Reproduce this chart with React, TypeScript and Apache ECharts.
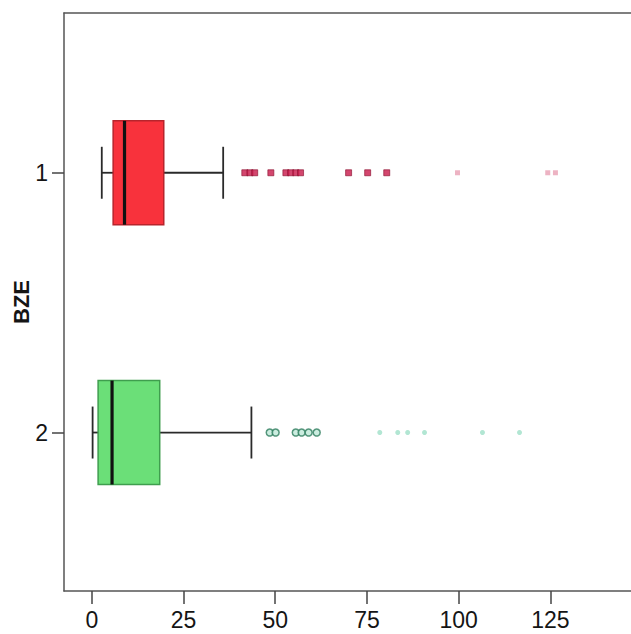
import React, { useEffect, useRef } from "react";
import * as echarts from "echarts";

const categories = ["1", "2"];
// [low whisker, Q1, median, Q3, high whisker]
const boxStats = [
  [2.7, 5.8, 8.9, 19.6, 35.8],
  [0.2, 1.7, 5.5, 18.5, 43.5],
];
const boxFill = ["#F8323C", "#6BDF78"];
const boxBorder = ["#B8242C", "#3F9E4E"];
const outliers1 = [41.7, 43.1, 44.4, 48.8, 52.9, 54.2, 55.6, 56.9, 70.0, 75.2, 80.4];
const faint1 = [99.7, 124.3, 126.4];
const outliers2 = [48.5, 50.1, 55.6, 57.2, 59.1, 61.3];
const faint2 = [78.5, 83.4, 86.1, 90.7, 106.5, 116.6];
const xTicks = [0, 25, 50, 75, 100, 125];

export default function App() {
  const ref = useRef<HTMLDivElement>(null);
  useEffect(() => {
    document.body.style.margin = "0";
    const chart = echarts.init(ref.current!, null, { renderer: "svg" });
    const boxData = boxStats.map((s, i) => [i + 1, ...s, i]);
    const narrow = "'Liberation Sans Narrow', 'Arial Narrow', 'Liberation Sans', sans-serif";
    const font = "'Liberation Sans', Arial, sans-serif";
    chart.setOption({
      animation: false,
      backgroundColor: "#ffffff",
      grid: { left: 64, top: 13, right: 0, bottom: 43, containLabel: false, outerBoundsMode: "none" },
      xAxis: [
        {
          type: "value",
          min: -7.6,
          max: 147,
          position: "bottom",
          splitLine: { show: false },
          axisLine: { show: true, onZero: false, lineStyle: { color: "#555", width: 1.5 } },
          axisTick: { show: true, customValues: xTicks, length: 13, lineStyle: { color: "#444", width: 1.5 } },
          axisLabel: { customValues: xTicks, fontSize: 23, color: "#151515", fontFamily: narrow, margin: 17 },
        },
        {
          type: "value",
          min: -7.6,
          max: 147,
          position: "top",
          splitLine: { show: false },
          axisLine: { show: true, onZero: false, lineStyle: { color: "#555", width: 1.5 } },
          axisTick: { show: false },
          axisLabel: { show: false },
        },
      ],
      yAxis: {
        type: "value",
        inverse: true,
        min: 0.385,
        max: 2.61,
        name: "BZE",
        nameLocation: "middle",
        nameGap: 32,
        nameMoveOverlap: false,
        nameRotate: 90,
        nameTextStyle: { fontSize: 22, fontWeight: "bold", color: "#151515", fontFamily: font },
        splitLine: { show: false },
        axisLine: { show: true, onZero: false, lineStyle: { color: "#555", width: 1.5 } },
        axisTick: { show: true, customValues: [1, 2], length: 12, lineStyle: { color: "#444", width: 1.5 } },
        axisLabel: {
          customValues: [1, 2],
          fontSize: 23,
          color: "#151515",
          fontFamily: narrow,
          margin: 16,
          formatter: (v: number) => categories[Math.round(v) - 1] ?? "",
        },
      },
      series: [
        {
          type: "custom",
          xAxisIndex: 0,
          data: boxData,
          encode: { x: [1, 2, 3, 4, 5], y: 0 },
          renderItem: (params: any, api: any) => {
            const y = api.value(0);
            const idx = api.value(6);
            const unit = api.size([0, 1])[1];
            const halfBox = unit * 0.2;
            const halfCap = unit * 0.1;
            const pLow = api.coord([api.value(1), y]);
            const pQ1 = api.coord([api.value(2), y]);
            const pMed = api.coord([api.value(3), y]);
            const pQ3 = api.coord([api.value(4), y]);
            const pHigh = api.coord([api.value(5), y]);
            const cy = pLow[1];
            const whisk = { stroke: "#2a2a2a", lineWidth: 1.8 };
            return {
              type: "group",
              children: [
                { type: "line", shape: { x1: pLow[0], y1: cy, x2: pQ1[0], y2: cy }, style: whisk },
                { type: "line", shape: { x1: pQ3[0], y1: cy, x2: pHigh[0], y2: cy }, style: whisk },
                { type: "line", shape: { x1: pLow[0], y1: cy - halfCap, x2: pLow[0], y2: cy + halfCap }, style: whisk },
                { type: "line", shape: { x1: pHigh[0], y1: cy - halfCap, x2: pHigh[0], y2: cy + halfCap }, style: whisk },
                {
                  type: "rect",
                  shape: { x: pQ1[0], y: cy - halfBox, width: pQ3[0] - pQ1[0], height: halfBox * 2 },
                  style: { fill: boxFill[idx], stroke: boxBorder[idx], lineWidth: 1.5 },
                },
                {
                  type: "line",
                  shape: { x1: pMed[0], y1: cy - halfBox, x2: pMed[0], y2: cy + halfBox },
                  style: { stroke: "#111", lineWidth: 3.2 },
                },
              ],
            };
          },
        },
        {
          type: "scatter",
          data: outliers1.map((v) => [v, 1]),
          symbol: "rect",
          symbolSize: [6, 6],
          itemStyle: { color: "#C8184A", borderColor: "#8a1030", borderWidth: 0.8 },
        },
        {
          type: "scatter",
          data: faint1.map((v) => [v, 1]),
          symbol: "rect",
          symbolSize: [5, 5],
          itemStyle: { color: "#E8A0B4", opacity: 0.8 },
        },
        {
          type: "scatter",
          data: outliers2.map((v) => [v, 2]),
          symbol: "circle",
          symbolSize: 7,
          itemStyle: { color: "#bfe8d8", borderColor: "#2E7D5E", borderWidth: 1.5 },
        },
        {
          type: "scatter",
          data: faint2.map((v) => [v, 2]),
          symbol: "circle",
          symbolSize: 5,
          itemStyle: { color: "#9FE0C8", opacity: 0.8 },
        },
      ],
    });
    return () => chart.dispose();
  }, []);
  return <div ref={ref} style={{ width: 631, height: 634 }} />;
}
